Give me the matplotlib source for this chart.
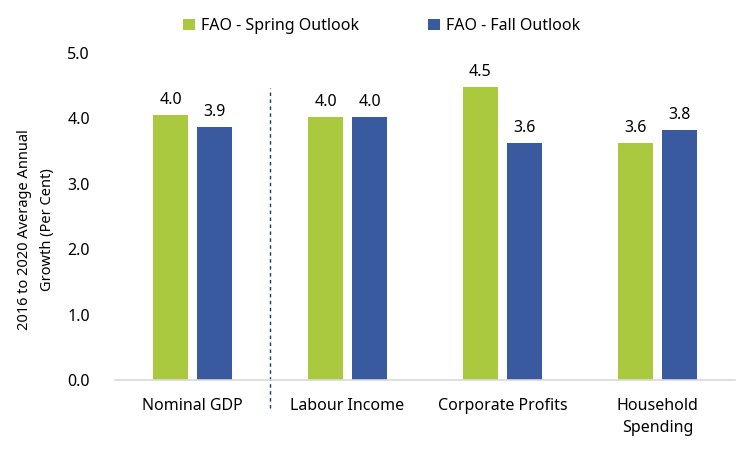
import matplotlib
matplotlib.use("Agg")
import matplotlib.pyplot as plt
import matplotlib.transforms as mtransforms
from matplotlib.patches import Patch
import numpy as np

categories = ["Nominal GDP", "Labour Income", "Corporate Profits", "Household\nSpending"]
spring = [4.05, 4.03, 4.48, 3.62]
fall = [3.87, 4.02, 3.63, 3.83]
spring_labels = ["4.0", "4.0", "4.5", "3.6"]
fall_labels = ["3.9", "4.0", "3.6", "3.8"]
yticks = [0, 1, 2, 3, 4, 5]

green = "#ABC93F"
blue = "#3A5A9F"
fs = 11.5

plt.rcParams['font.family'] = ['Noto Sans', 'DejaVu Sans']
fig = plt.figure(figsize=(7.5, 4.5), dpi=100)
ax = fig.add_axes([0.1533, 0.1556, 0.8267, 0.7264])

x = np.arange(len(categories))
w = 0.226
off = 0.142
b1 = ax.bar(x - off, spring, width=w, color=green, label="FAO - Spring Outlook")
b2 = ax.bar(x + off, fall, width=w, color=blue, label="FAO - Fall Outlook")

for rect, lab in zip(b1, spring_labels):
    ax.annotate(lab, (rect.get_x() + rect.get_width() / 2, rect.get_height()),
                xytext=(0, 5), textcoords="offset points", ha="center", va="bottom",
                fontsize=fs, color="#000000")
for rect, lab in zip(b2, fall_labels):
    ax.annotate(lab, (rect.get_x() + rect.get_width() / 2, rect.get_height()),
                xytext=(0, 5), textcoords="offset points", ha="center", va="bottom",
                fontsize=fs, color="#000000")

ax.set_xlim(-0.5, len(categories) - 0.5)
ax.set_ylim(0, 5)
ax.set_yticks(yticks)
ax.set_yticklabels([f"{v:.1f}" for v in yticks], fontsize=fs)
ax.set_xticks(x)
ax.set_xticklabels(categories, fontsize=fs, linespacing=1.5)
ax.tick_params(axis="x", length=0, pad=13)
ax.tick_params(axis="y", length=0, pad=18)
for s in ["top", "right", "left"]:
    ax.spines[s].set_visible(False)
ax.spines["bottom"].set_color("#D9D9D9")
ax.spines["bottom"].set_linewidth(1.2)

trans = mtransforms.blended_transform_factory(ax.transData, ax.transAxes)
ax.plot([0.5, 0.5], [-0.0856, 0.893], transform=trans, color="#1F3864",
        linestyle=(0, (2.5, 2.5)), linewidth=1.0, clip_on=False)

ax.set_ylabel("2016 to 2020 Average Annual\nGrowth (Per Cent)", fontsize=10.5,
              linespacing=1.75)
ax.yaxis.set_label_coords(-0.097, 0.46)

handles = [Patch(facecolor=green, label="FAO - Spring Outlook"),
           Patch(facecolor=blue, label="FAO - Fall Outlook")]
fig.legend(handles=handles, loc="center", bbox_to_anchor=(0.509, 0.942), ncol=2,
           frameon=False, fontsize=fs, handlelength=0.75, handleheight=0.75,
           columnspacing=4.3, handletextpad=0.4)

fig.savefig("out.png", dpi=100)
